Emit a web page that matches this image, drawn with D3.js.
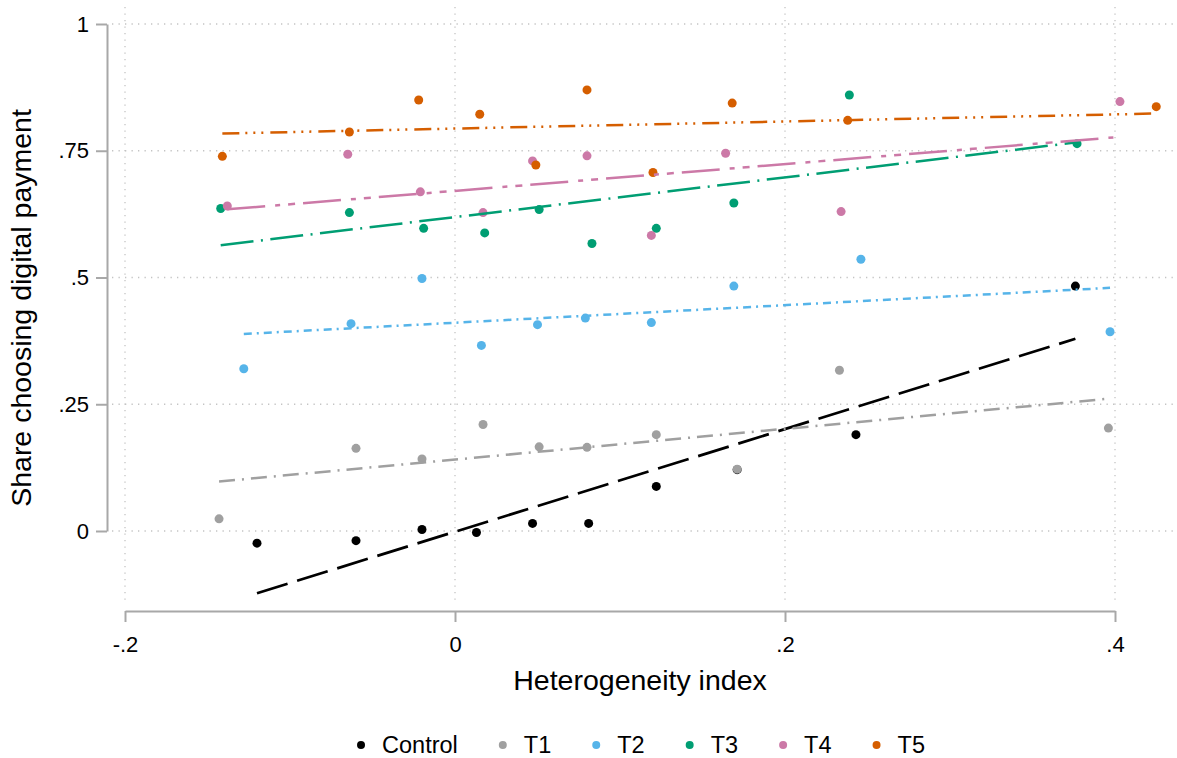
<!DOCTYPE html>
<html>
<head>
<meta charset="utf-8">
<script src="https://cdn.jsdelivr.net/npm/d3@7"></script>
<style>
body { margin: 0; background: #fff; }
text { font-family: "Liberation Sans", Arial, sans-serif; fill: #000; }
</style>
</head>
<body>
<div id="plot"></div>
<script>
// series (bin means)
let seriesNames = ["Control", "T1", "T2", "T3", "T4", "T5"];
let seriesColors = ["#000000", "#a0a0a0", "#56b4e9", "#009e73", "#cc79a7", "#d55e00"];

let xControl = [-0.120, -0.060, -0.020, 0.013, 0.047, 0.081, 0.122, 0.171, 0.243, 0.376];
let yControl = [-0.024, -0.019, 0.003, -0.003, 0.015, 0.015, 0.088, 0.121, 0.190, 0.483];
let xT1 = [-0.143, -0.060, -0.020, 0.017, 0.051, 0.080, 0.122, 0.171, 0.233, 0.396];
let yT1 = [0.024, 0.163, 0.142, 0.210, 0.166, 0.165, 0.190, 0.122, 0.317, 0.203];
let xT2 = [-0.128, -0.063, -0.020, 0.016, 0.050, 0.079, 0.119, 0.169, 0.246, 0.397];
let yT2 = [0.320, 0.409, 0.498, 0.366, 0.407, 0.420, 0.411, 0.483, 0.536, 0.393];
let xT3 = [-0.142, -0.064, -0.019, 0.018, 0.051, 0.083, 0.122, 0.169, 0.239, 0.377];
let yT3 = [0.636, 0.628, 0.597, 0.588, 0.634, 0.567, 0.597, 0.647, 0.860, 0.764];
let xT4 = [-0.138, -0.065, -0.021, 0.017, 0.047, 0.080, 0.119, 0.164, 0.234, 0.403];
let yT4 = [0.641, 0.743, 0.669, 0.628, 0.730, 0.740, 0.583, 0.745, 0.630, 0.847];
let xT5 = [-0.141, -0.064, -0.022, 0.015, 0.049, 0.080, 0.120, 0.168, 0.238, 0.425];
let yT5 = [0.739, 0.787, 0.850, 0.822, 0.722, 0.870, 0.707, 0.844, 0.810, 0.837];

// linear fit lines (intercept, slope)
let fitIntercepts = [-0.0014, 0.1409, 0.4108, 0.6192, 0.6709, 0.7938];
let fitSlopes = [1.012, 0.303, 0.1733, 0.391, 0.264, 0.0698];
let fitDashes = ["32,10", "16,7,2,7", "8,5,2,5", "33,7.5,2,7.5", "38,10,5,8,7,8", "17,6,2,6,2,6,2,7"];

let xTicks = [-0.2, 0, 0.2, 0.4];
let xTickLabels = ["-.2", "0", ".2", ".4"];
let yTicks = [0, 0.25, 0.5, 0.75, 1];
let yTickLabels = ["0", ".25", ".5", ".75", "1"];

let xsAll = [xControl, xT1, xT2, xT3, xT4, xT5];
let ysAll = [yControl, yT1, yT2, yT3, yT4, yT5];

let svgWidth = 1177;
let svgHeight = 758;
let plotBox = { left: 112, right: 1175, top: 7, bottom: 605 };

let x = d3.scaleLinear().domain([-0.2, 0.4]).range([125, 1115]);
let y = d3.scaleLinear().domain([0, 1]).range([531, 24]);

let svg = d3.select('#plot')
    .append('svg')
    .attr('width', svgWidth)
    .attr('height', svgHeight);

// dotted grid
let grid = svg.append('g')
    .attr('stroke', '#c4c4c4')
    .attr('stroke-width', 1.3)
    .attr('stroke-dasharray', '1.3,5.2');

grid.selectAll('.hgrid').data(yTicks).enter()
    .append('line')
    .attr('x1', plotBox.left).attr('x2', plotBox.right)
    .attr('y1', d => y(d)).attr('y2', d => y(d));

grid.selectAll('.vgrid').data(xTicks).enter()
    .append('line')
    .attr('x1', d => x(d)).attr('x2', d => x(d))
    .attr('y1', plotBox.top).attr('y2', plotBox.bottom);

// axes
let yAxis = d3.axisLeft(y)
    .tickValues(yTicks)
    .tickFormat((d, i) => yTickLabels[i])
    .tickSizeInner(11).tickSizeOuter(0).tickPadding(7);

let xAxis = d3.axisBottom(x)
    .tickValues(xTicks)
    .tickFormat((d, i) => xTickLabels[i])
    .tickSizeInner(11).tickSizeOuter(0).tickPadding(14);

let gy = svg.append('g').attr('transform', 'translate(107,0)').call(yAxis);
let gx = svg.append('g').attr('transform', 'translate(0,611)').call(xAxis);

[gx, gy].forEach(g => {
    g.select('.domain').attr('stroke', '#a8a8a8').attr('stroke-width', 2);
    g.selectAll('.tick line').attr('stroke', '#a8a8a8').attr('stroke-width', 2);
    g.selectAll('.tick text')
        .attr('font-size', 22)
        .attr('font-family', '"Liberation Sans", Arial, sans-serif')
        .attr('fill', '#000');
});

// axis titles
svg.append('text')
    .attr('x', 640).attr('y', 690)
    .attr('text-anchor', 'middle')
    .attr('font-size', 28.5)
    .text('Heterogeneity index');

svg.append('text')
    .attr('transform', 'translate(31,308) rotate(-90)')
    .attr('text-anchor', 'middle')
    .attr('font-size', 28.5)
    .text('Share choosing digital payment');

// scatter points
seriesNames.forEach((name, s) => {
    let pts = xsAll[s].map((v, i) => ({ x: v, y: ysAll[s][i] }));
    svg.append('g').selectAll('circle').data(pts).enter()
        .append('circle')
        .attr('cx', d => x(d.x))
        .attr('cy', d => y(d.y))
        .attr('r', 4.5)
        .attr('fill', seriesColors[s]);
});

// fit lines over the range of each series
seriesNames.forEach((name, s) => {
    let ext = d3.extent(xsAll[s]);
    let seg = ext.map(v => ({ x: v, y: fitIntercepts[s] + fitSlopes[s] * v }));
    svg.append('path')
        .datum(seg)
        .attr('d', d3.line().x(d => x(d.x)).y(d => y(d.y)))
        .attr('fill', 'none')
        .attr('stroke', seriesColors[s])
        .attr('stroke-width', s == 0 ? 2.7 : 2.5)
        .attr('stroke-dasharray', fitDashes[s]);
});

// legend
let legend = svg.append('g');
let lx = 0;
let legendY = 745;
let legendGap = 41;
seriesNames.forEach((name, s) => {
    let item = legend.append('g').attr('transform', `translate(${lx},0)`);
    item.append('circle')
        .attr('cx', 4).attr('cy', legendY).attr('r', 4)
        .attr('fill', seriesColors[s]);
    let t = item.append('text')
        .attr('x', 25).attr('y', legendY)
        .attr('dy', '0.35em')
        .attr('font-size', 23.5)
        .text(name);
    lx += 25 + t.node().getComputedTextLength() + legendGap;
});
let legendWidth = lx - legendGap;
legend.attr('transform', `translate(${641 - legendWidth / 2},0)`);
</script>
</body>
</html>
